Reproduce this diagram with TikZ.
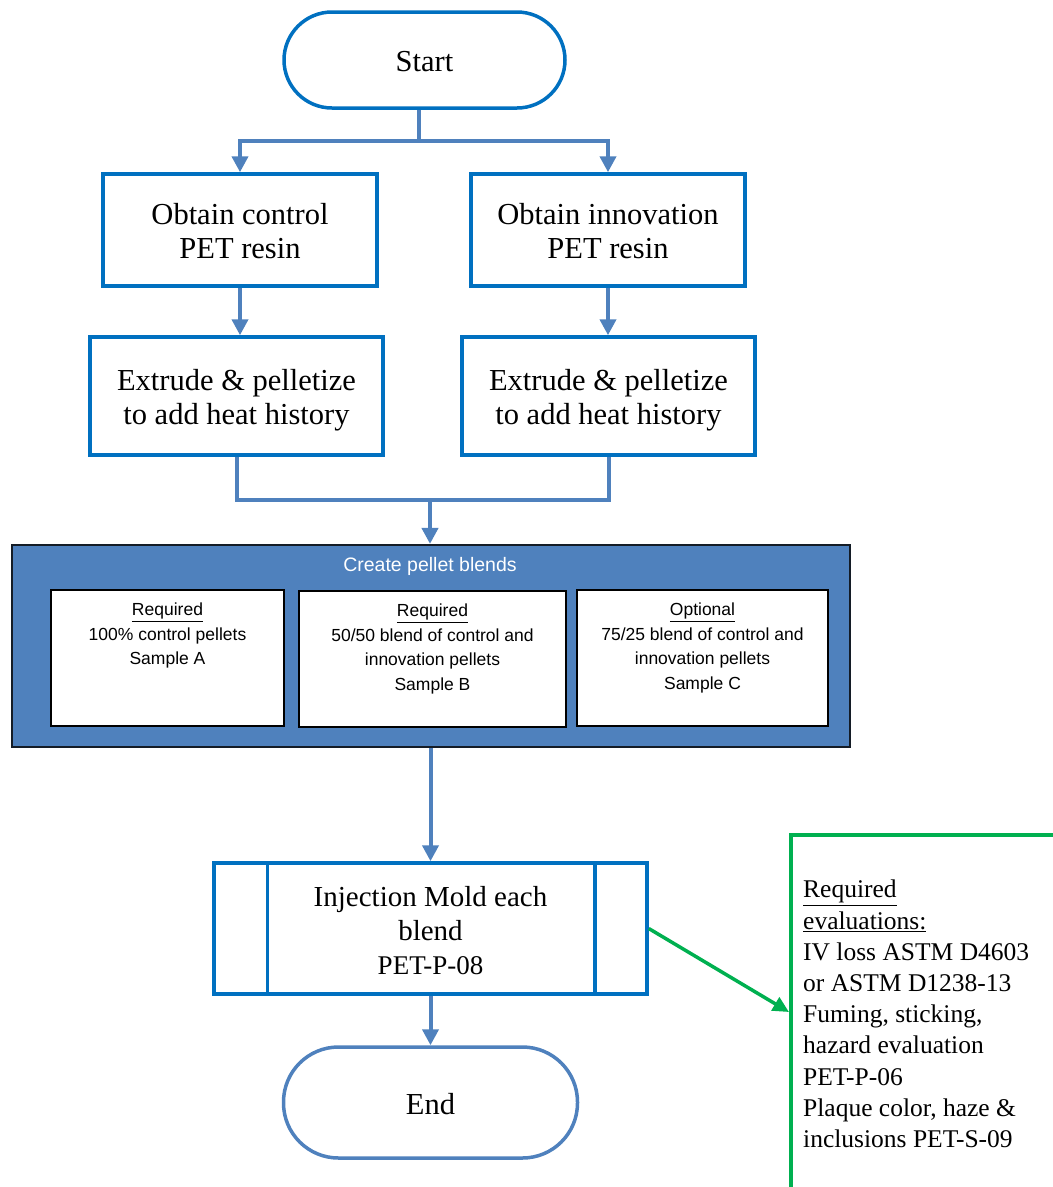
\documentclass[tikz,border=0pt]{standalone}
\usepackage{fontspec}
\setmainfont{Liberation Serif}
\newfontfamily\arialfont{Liberation Sans}
\usetikzlibrary{arrows.meta}
\definecolor{boxblue}{HTML}{0070C0}
\definecolor{linkblue}{HTML}{4F81BD}
\definecolor{blendfill}{HTML}{4F81BD}
\definecolor{blendedge}{HTML}{141C26}
\definecolor{evalgreen}{HTML}{00B050}
\newcommand\topstrut{\rule{0pt}{33.8pt}\strut}
\begin{document}
\begin{tikzpicture}[x=1pt,y=-1pt,
  procbox/.style={draw=boxblue, line width=3.5pt, fill=white, rectangle, align=center, inner sep=0pt,
    font=\fontsize{30.5}{34}\selectfont},
  termbox/.style={procbox, rounded corners=#1},
  flowline/.style={draw=linkblue, line width=4pt},
  flowarrow/.style={flowline, -{Triangle[width=16pt,length=16pt]}},
  samplebox/.style={draw=black, line width=2.2pt, fill=white, rectangle, inner sep=0pt},
  sampletext/.style={align=center, inner sep=0pt, font=\arialfont\fontsize{17.5}{24.5}\selectfont},
]
\useasboundingbox (0,0) rectangle (1053,1187);
\clip (0,0) rectangle (1053,1187);

% nodes
\node[termbox=48pt, minimum width=281pt, minimum height=96pt] (start) at (424.5,60) {\topstrut Start};
\node[procbox, minimum width=274pt, minimum height=112pt] (ctrl) at (240,230) {\topstrut Obtain control\\\strut PET resin};
\node[procbox, minimum width=274pt, minimum height=112pt] (innov) at (608,230) {\topstrut Obtain innovation\\\strut PET resin};
\node[procbox, minimum width=293pt, minimum height=118pt] (extc) at (236.5,396) {\topstrut Extrude \& pelletize\\\strut to add heat history};
\node[procbox, minimum width=293pt, minimum height=118pt] (exti) at (608.5,396) {\topstrut Extrude \& pelletize\\\strut to add heat history};

\node[draw=blendedge, fill=blendfill, line width=2.2pt, minimum width=838pt, minimum height=202pt, inner sep=0pt] (blend) at (431,646) {};
\node[font=\arialfont\fontsize{19.5}{23}\selectfont, text=white, inner sep=0pt] (blendtitle) at (430,566) {Create pellet blends};

\node[samplebox, minimum width=233pt, minimum height=136pt] (sa) at (167.5,658) {};
\node[samplebox, minimum width=267pt, minimum height=136pt] (sb) at (432.5,659) {};
\node[samplebox, minimum width=251pt, minimum height=136pt] (sc) at (702.5,658) {};
\node[sampletext, anchor=north] (sat) at ([yshift=-14pt]sa.north) {\underline{Required}\\100\% control pellets\\Sample A};
\node[sampletext, anchor=north] (sbt) at ([yshift=-14pt]sb.north) {\underline{Required}\\50/50 blend of control and\\innovation pellets\\Sample B};
\node[sampletext, anchor=north] (sct) at ([yshift=-14pt]sc.north) {\underline{Optional}\\75/25 blend of control and\\innovation pellets\\Sample C};

\node[procbox, font=\fontsize{29}{34}\selectfont, minimum width=433pt, minimum height=131pt] (inj) at (430.5,928.5)
  {\topstrut Injection Mold each\\\strut blend\\\strut{\fontsize{27}{34}\selectfont PET-P-08}};
\draw[boxblue, line width=3.5pt] ([xshift=55pt]inj.north west) -- ([xshift=55pt]inj.south west);
\draw[boxblue, line width=3.5pt] ([xshift=-54pt]inj.north east) -- ([xshift=-54pt]inj.south east);

\node[termbox=55pt, draw=linkblue, minimum width=294pt, minimum height=111pt] (end) at (430.5,1102.5) {\topstrut End};

\node[draw=evalgreen, line width=3.5pt, anchor=north west, minimum width=320pt, minimum height=420pt, inner sep=0pt] (evalbox) at (789,833) {};
\node[anchor=north west, align=left, inner sep=0pt, font=\fontsize{25.5}{31.2}\selectfont] (evaltext) at (803,880)
  {\underline{Required}\\\underline{evaluations:}\\IV loss ASTM D4603\\or ASTM D1238-13\\Fuming, sticking,\\hazard evaluation\\PET-P-06\\Plaque color, haze \&\\inclusions PET-S-09};

% connectors
\coordinate (fork) at (419,141);
\coordinate (merge) at (430,500);
\coordinate (evaltip) at (789,1012);
\draw[flowline] (start.south -| fork) -- (fork);
\draw[flowarrow] (fork) -| (ctrl.north);
\draw[flowarrow] (fork) -| (innov.north);
\draw[flowarrow] (ctrl.south) -- (ctrl.south |- extc.north);
\draw[flowarrow] (innov.south) -- (innov.south |- exti.north);
\draw[flowline] (extc.south) |- (merge) -| (exti.south);
\draw[flowarrow] (merge) -- (merge |- blend.north);
\draw[flowarrow] (inj.north |- blend.south) -- (inj.north);
\draw[flowarrow] (inj.south) -- (end.north);
\draw[evalgreen, line width=3.5pt, -{Triangle[width=15pt,length=16pt]}] (inj.east) -- (evaltip);
\end{tikzpicture}
\end{document}
